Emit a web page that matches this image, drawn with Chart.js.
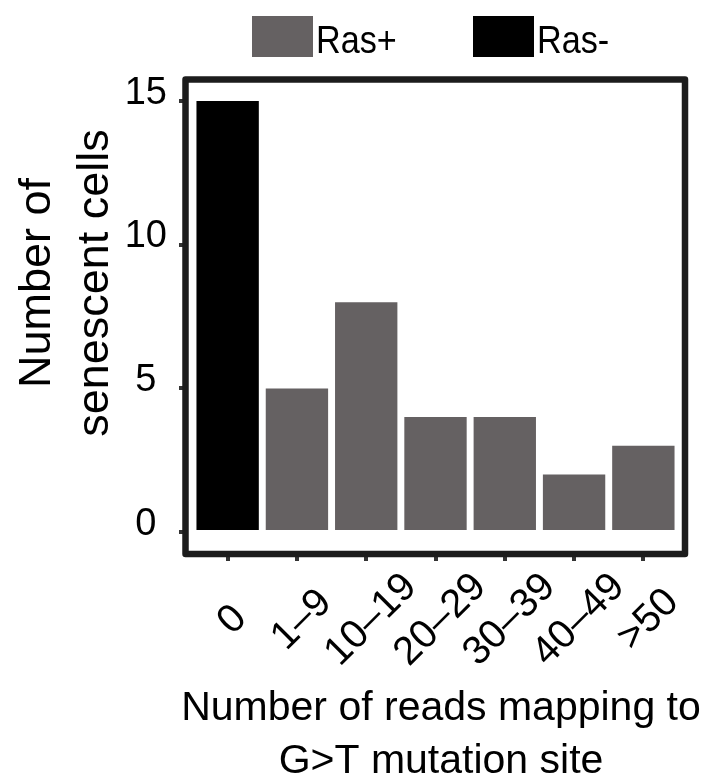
<!DOCTYPE html>
<html>
<head>
<meta charset="utf-8">
<title>Senescent cells by G>T reads</title>
<script src="https://cdn.jsdelivr.net/npm/chart.js@4.4.1/dist/chart.umd.min.js"></script>
<style>
    html, body { margin: 0; padding: 0; background: #fff; }
    #wrap { width: 713px; height: 778px; }
</style>
</head>
<body>
<div id="wrap"><canvas id="chart"></canvas></div>
<script>
// categories + series
const categories = ['0', '1–9', '10–19', '20–29', '30–39', '40–49', '>50'];
const rasPlus = [null, 5, 8, 4, 4, 2, 3];
const rasMinus = [15, null, null, null, null, null, null];
const yTicks = [0, 5, 10, 15];
const seriesNames = ['Ras+', 'Ras-'];
const seriesColors = ['#656162', '#000000'];
const yTitle = ['Number of', 'senescent cells'];
const xTitle = ['Number of reads mapping to', 'G>T mutation site'];

const FONT = "'Liberation Sans', Arial, sans-serif";

/**
 * White strip between the frame and the first bar, then the thick frame
 */
const framePlugin = {
    id: 'frame',
    beforeDatasetsDraw(chart) {
        const { ctx, chartArea: a } = chart;
        ctx.save();
        ctx.fillStyle = '#fff';
        ctx.fillRect(a.left - 5, a.top, 5, a.bottom - a.top);
        ctx.restore();
    },
    afterDatasetsDraw(chart) {
        const { ctx, chartArea: a } = chart;
        ctx.save();
        ctx.strokeStyle = '#1c1c1c';
        ctx.lineWidth = 6.5;
        ctx.lineJoin = 'round';
        ctx.strokeRect(a.left - 7.5, a.top - 3.5, a.right - a.left + 14.5, a.bottom - a.top + 6.5);
        ctx.restore();
    }
};

/**
 * Legend: square swatch with a slightly condensed label right next to it
 */
const legendPlugin = {
    id: 'boxLegend',
    afterDraw(chart) {
        const { ctx } = chart;
        const boxX = [252, 473];
        ctx.save();
        ctx.font = `38px ${FONT}`;
        ctx.textBaseline = 'alphabetic';
        ctx.textAlign = 'left';
        chart.data.datasets.forEach((ds, i) => {
            ctx.fillStyle = ds.backgroundColor;
            ctx.fillRect(boxX[i], 16, 61, 41);
            ctx.fillStyle = '#000';
            ctx.save();
            ctx.translate(boxX[i] + 64, 53);
            ctx.scale(0.9, 1);
            ctx.fillText(ds.label, 0, 0);
            ctx.restore();
        });
        ctx.restore();
    }
};

/**
 * Axis titles and the 45 degree, centred category labels
 */
const textPlugin = {
    id: 'axisText',
    afterDraw(chart) {
        const { ctx } = chart;
        const sx = chart.scales.x;
        ctx.save();
        ctx.fillStyle = '#000';

        // category labels, rotated about their centre
        ctx.font = `40px ${FONT}`;
        ctx.textAlign = 'center';
        ctx.textBaseline = 'middle';
        chart.data.labels.forEach((lab, i) => {
            const px = sx.getPixelForTick(i);
            ctx.save();
            ctx.translate(px + 5, 620);
            ctx.rotate(-Math.PI / 4);
            ctx.fillText(lab, 0, 0);
            ctx.restore();
        });

        // y title
        ctx.font = `45px ${FONT}`;
        ctx.textBaseline = 'alphabetic';
        const yBase = [50, 108];
        yTitle.forEach((line, i) => {
            ctx.save();
            ctx.translate(yBase[i], 283);
            ctx.rotate(-Math.PI / 2);
            ctx.fillText(line, 0, 0);
            ctx.restore();
        });

        // x title
        ctx.font = `41px ${FONT}`;
        const xBase = [720, 773];
        xTitle.forEach((line, i) => ctx.fillText(line, 441, xBase[i]));
        ctx.restore();
    }
};

new Chart(document.getElementById('chart'), {
    type: 'bar',
    data: {
        labels: categories,
        datasets: [
            {
                label: seriesNames[0],
                data: rasPlus,
                backgroundColor: seriesColors[0],
                grouped: false,
                barPercentage: 0.9,
                categoryPercentage: 1
            },
            {
                label: seriesNames[1],
                data: rasMinus,
                backgroundColor: seriesColors[1],
                grouped: false,
                barPercentage: 0.9,
                categoryPercentage: 1
            }
        ]
    },
    options: {
        responsive: true,
        maintainAspectRatio: false,
        devicePixelRatio: 1,
        animation: false,
        layout: { padding: { top: 83, right: 35, bottom: 0, left: 0 } },
        plugins: {
            legend: { display: false },
            tooltip: { enabled: false }
        },
        scales: {
            x: {
                offset: true,
                afterFit: (s) => { s.height = 227; },
                border: { display: false },
                grid: {
                    offset: false,
                    drawOnChartArea: false,
                    tickLength: 10,
                    lineWidth: 4,
                    color: '#333'
                },
                ticks: { display: false, autoSkip: false }
            },
            y: {
                min: -0.66,
                max: 15.63,
                afterBuildTicks: (s) => { s.ticks = yTicks.map(v => ({ value: v })); },
                afterFit: (s) => { s.width = 193; },
                border: { display: false },
                grid: {
                    drawOnChartArea: false,
                    tickLength: 14,
                    lineWidth: 4,
                    color: '#333'
                },
                ticks: {
                    color: '#000',
                    font: { size: 38, family: FONT },
                    padding: 12,
                    crossAlign: 'center',
                    labelOffset: -8
                }
            }
        }
    },
    plugins: [framePlugin, legendPlugin, textPlugin]
});
</script>
</body>
</html>
